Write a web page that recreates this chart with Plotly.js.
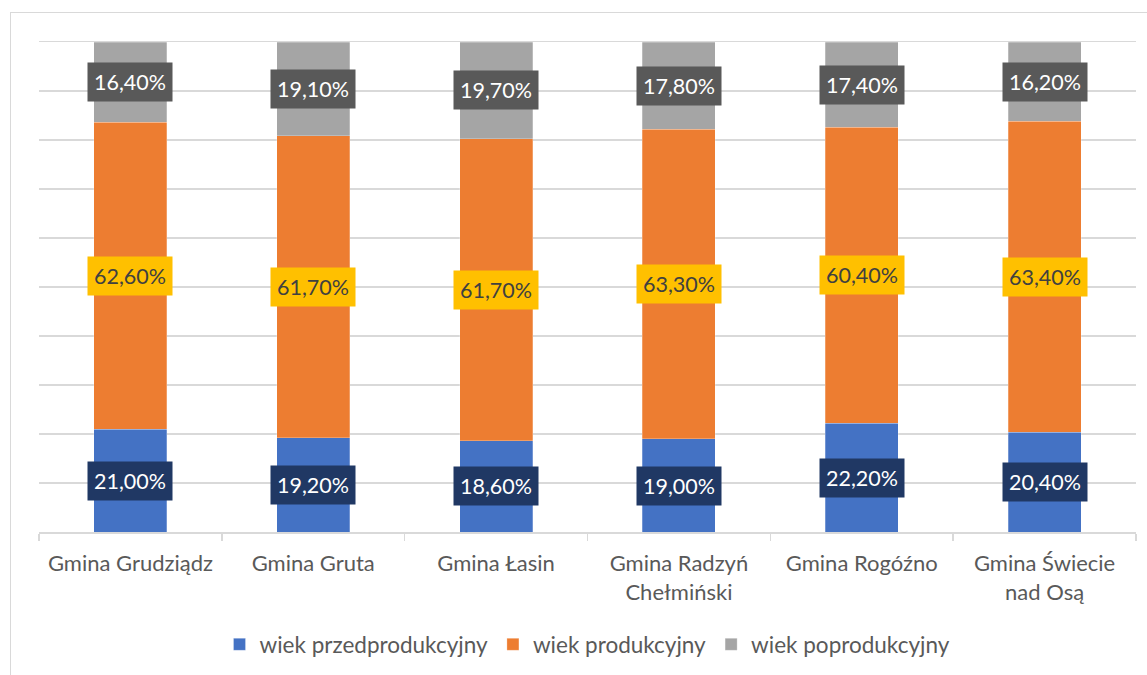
<!DOCTYPE html>
<html><head><meta charset="utf-8">
<script src="https://cdn.plot.ly/plotly-3.0.1.min.js"></script>
<style>
html,body{margin:0;padding:0;background:#fff;overflow:hidden}
#wrap{position:relative;width:1147px;height:675px}
#frame{position:absolute;left:10px;top:12px;width:1200px;height:700px;border:1px solid #d9d9d9;box-sizing:border-box;pointer-events:none}
#chart{position:absolute;left:0;top:0;width:1147px;height:675px}
</style></head>
<body><div id="wrap"><div id="chart"></div><div id="frame"></div></div>
<script>
const categories = ["Gmina Grudziądz","Gmina Gruta","Gmina Łasin","Gmina Radzyń<br>Chełmiński","Gmina Rogóźno","Gmina Świecie<br>nad Osą"];
const przed = [21.0,19.2,18.6,19.0,22.2,20.4];
const prod = [62.6,61.7,61.7,63.3,60.4,63.4];
const popr = [16.4,19.1,19.7,17.8,17.4,16.2];
const seriesNames = ["wiek przedprodukcyjny","wiek produkcyjny","wiek poprodukcyjny"];
const colors = ["#4472C4","#ED7D31","#A5A5A5"];
const labelBg = ["#203864","#FFC000","#595959"];
const labelFg = ["#ffffff","#404040","#ffffff"];
const FONT = "Lato, 'Open Sans', sans-serif";
const fmt = v => v.toFixed(2).replace('.', ',') + '%';
const series = [przed, prod, popr];
const traces = series.map((vals,i)=>({
  type:'bar', name:seriesNames[i], x:categories, y:vals,
  marker:{color:colors[i], line:{color:'rgba(255,255,255,0.5)', width:0.5}},
  hoverinfo:'none'
}));
const annotations = [];
categories.forEach((c,j)=>{
  let base = 0;
  const total = przed[j]+prod[j]+popr[j];
  series.forEach((vals,i)=>{
    const v = vals[j]/total*100;
    annotations.push({x:c, y:base+v/2, xref:'x', yref:'y', text:fmt(vals[j]), showarrow:false,
      bgcolor:labelBg[i], font:{family:FONT,size:21.5,color:labelFg[i]}, borderpad:6});
    base += v;
  });
});
const layout = {
  width:1147, height:675,
  margin:{l:39,r:11,t:42,b:143,autoexpand:false},
  paper_bgcolor:'#fff', plot_bgcolor:'#fff',
  barmode:'stack', barnorm:'percent', bargap:0.6,
  font:{family:FONT, color:'#595959', size:21},
  xaxis:{type:'category', automargin:false, showgrid:false, showline:true, linecolor:'#d9d9d9', linewidth:1.5, mirror:true,
    ticks:'outside', tickson:'boundaries', ticklen:7, tickcolor:'#d9d9d9', tickwidth:1.5,
    ticklabelstandoff:11,
    tickfont:{family:FONT,size:22,color:'#595959'}, fixedrange:true},
  yaxis:{range:[0,100], automargin:false, dtick:10, showgrid:true, gridcolor:'#d9d9d9', gridwidth:1.5,
    showticklabels:false, zeroline:false, showline:false, fixedrange:true},
  legend:{orientation:'h', x:0.5, xanchor:'center', y:-0.23, yanchor:'middle',
    font:{family:FONT,size:22.5,color:'#595959'}, itemwidth:30, traceorder:'normal'},
  annotations:annotations,
  showlegend:true
};
Plotly.newPlot('chart', traces, layout, {displayModeBar:false, staticPlot:true});
</script></body></html>
